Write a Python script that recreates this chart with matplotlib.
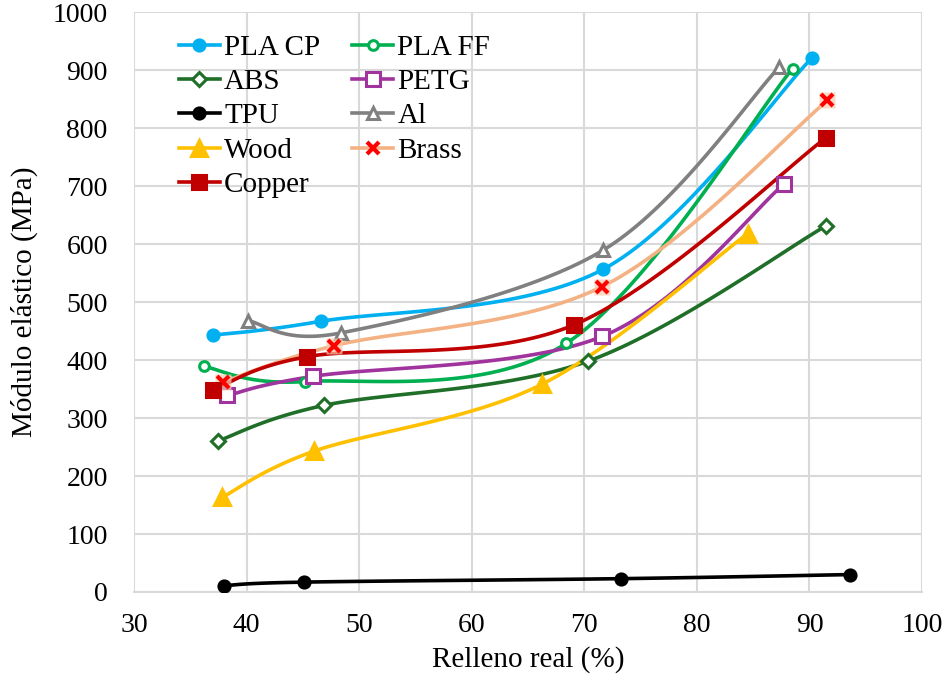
import numpy as np
import matplotlib
matplotlib.use("Agg")
import matplotlib.pyplot as plt
from matplotlib.lines import Line2D

plt.rcParams["font.family"] = ["Liberation Serif", "DejaVu Serif"]

# Relleno real (%) y módulo elástico (MPa) por material
pla_cp_x = [37.0, 46.6, 71.7, 90.2]
pla_cp_y = [443, 467, 557, 921]
pla_ff_x = [36.2, 45.2, 68.4, 88.5]
pla_ff_y = [389, 363, 429, 903]
abs_x = [37.5, 46.9, 70.3, 91.5]
abs_y = [261, 322, 398, 632]
petg_x = [38.3, 45.9, 71.6, 87.7]
petg_y = [339, 372, 441, 703]
tpu_x = [38.0, 45.1, 73.3, 93.6]
tpu_y = [11, 17, 23, 30]
al_x = [40.1, 48.4, 71.7, 87.3]
al_y = [468, 447, 590, 905]
wood_x = [37.8, 46.0, 66.2, 84.5]
wood_y = [163, 243, 358, 618]
brass_x = [37.9, 47.8, 71.6, 91.6]
brass_y = [362, 425, 527, 848]
copper_x = [37.0, 45.4, 69.1, 91.5]
copper_y = [348, 406, 461, 784]

x_ticks = [30, 40, 50, 60, 70, 80, 90, 100]
y_ticks = [0, 100, 200, 300, 400, 500, 600, 700, 800, 900, 1000]


def smooth(xs, ys, n=40):
    # courbe lissée type tableur : Bézier cubique, tangentes Catmull-Rom / 6
    p = np.column_stack([xs, ys]).astype(float)
    p = np.vstack([p[0], p, p[-1]])
    out = []
    t = np.linspace(0, 1, n)[:, None]
    for i in range(1, len(p) - 2):
        p0, p3 = p[i], p[i + 1]
        c1 = p0 + (p[i + 1] - p[i - 1]) / 6
        c2 = p3 - (p[i + 2] - p[i]) / 6
        seg = ((1 - t) ** 3) * p0 + 3 * ((1 - t) ** 2) * t * c1 \
            + 3 * (1 - t) * t ** 2 * c2 + t ** 3 * p3
        out.append(seg if i == 1 else seg[1:])
    s = np.vstack(out)
    return s[:, 0], s[:, 1]


series = [
    # label, x, y, line color, marker, marker size, face, edge
    ("PLA CP", pla_cp_x, pla_cp_y, "#00B0F0", "o", 8, "#00B0F0", "#00B0F0"),
    ("PLA FF", pla_ff_x, pla_ff_y, "#00B050", "o", 7, "white", "#00B050"),
    ("ABS", abs_x, abs_y, "#1F6F28", "D", 7, "white", "#1F6F28"),
    ("PETG", petg_x, petg_y, "#A0339E", "s", 10, "white", "#A0339E"),
    ("TPU", tpu_x, tpu_y, "black", "o", 8, "black", "black"),
    ("Al", al_x, al_y, "#808080", "^", 9, "white", "#808080"),
    ("Wood", wood_x, wood_y, "#FFC000", "^", 11, "#FFC000", "#FFC000"),
    ("Brass", brass_x, brass_y, "#F4B183", "x", 9, "#FF0000", "#FF0000"),
    ("Copper", copper_x, copper_y, "#C00000", "s", 10, "#C00000", "#C00000"),
]

fig = plt.figure(figsize=(9.48, 6.74), dpi=100)
ax = fig.add_axes([0.1414, 0.1217, 0.8312, 0.86])

handles = {}
for label, xs, ys, lc, mk, ms, fc, ec in series:
    sx, sy = smooth(xs, ys)
    ax.plot(sx, sy, color=lc, lw=2.6, zorder=3, solid_capstyle="round")
    mew = 3 if mk == "x" else 2.2
    if mk == "x":
        # fond clair sous les croix
        ax.plot(xs, ys, ls="none", marker="s", ms=12, mfc="#F8CBAD",
                mec="none", alpha=0.7, zorder=4)
    ax.plot(xs, ys, ls="none", marker=mk, ms=ms, mfc=fc, mec=ec, mew=mew, zorder=4)
    handles[label] = Line2D([], [], color=lc, lw=2.6, marker=mk, ms=ms,
                            mfc=fc, mec=ec, mew=mew)

ax.set_xlim(30, 100)
ax.set_ylim(0, 1000)
ax.set_xticks(x_ticks)
ax.set_yticks(y_ticks)
ax.tick_params(labelsize=20, length=0)
ax.tick_params(axis="y", pad=19)
ax.tick_params(axis="x", pad=15)
ax.grid(True, color="#D9D9D9", lw=1.5, zorder=0)
ax.set_axisbelow(True)
for side in ["top", "right", "left"]:
    ax.spines[side].set_visible(False)
ax.spines["bottom"].set_color("#D9D9D9")
ax.spines["bottom"].set_linewidth(1.5)

ax.set_xlabel("Relleno real (%)", fontsize=21, labelpad=8)
ax.set_ylabel("Módulo elástico (MPa)", fontsize=21, labelpad=4)
ax.yaxis.set_label_coords(-0.122, 0.5)
ax.xaxis.set_label_coords(0.5, -0.093)

order = ["PLA CP", "ABS", "TPU", "Wood", "Copper", "PLA FF", "PETG", "Al", "Brass"]
ax.legend([handles[k] for k in order], order, ncol=2, loc="upper left",
          bbox_to_anchor=(0.042, 0.982), frameon=False, fontsize=21,
          handlelength=1.4, handletextpad=0.15, columnspacing=1.1,
          labelspacing=0.27, borderaxespad=0)

fig.savefig("out.png", dpi=100)
